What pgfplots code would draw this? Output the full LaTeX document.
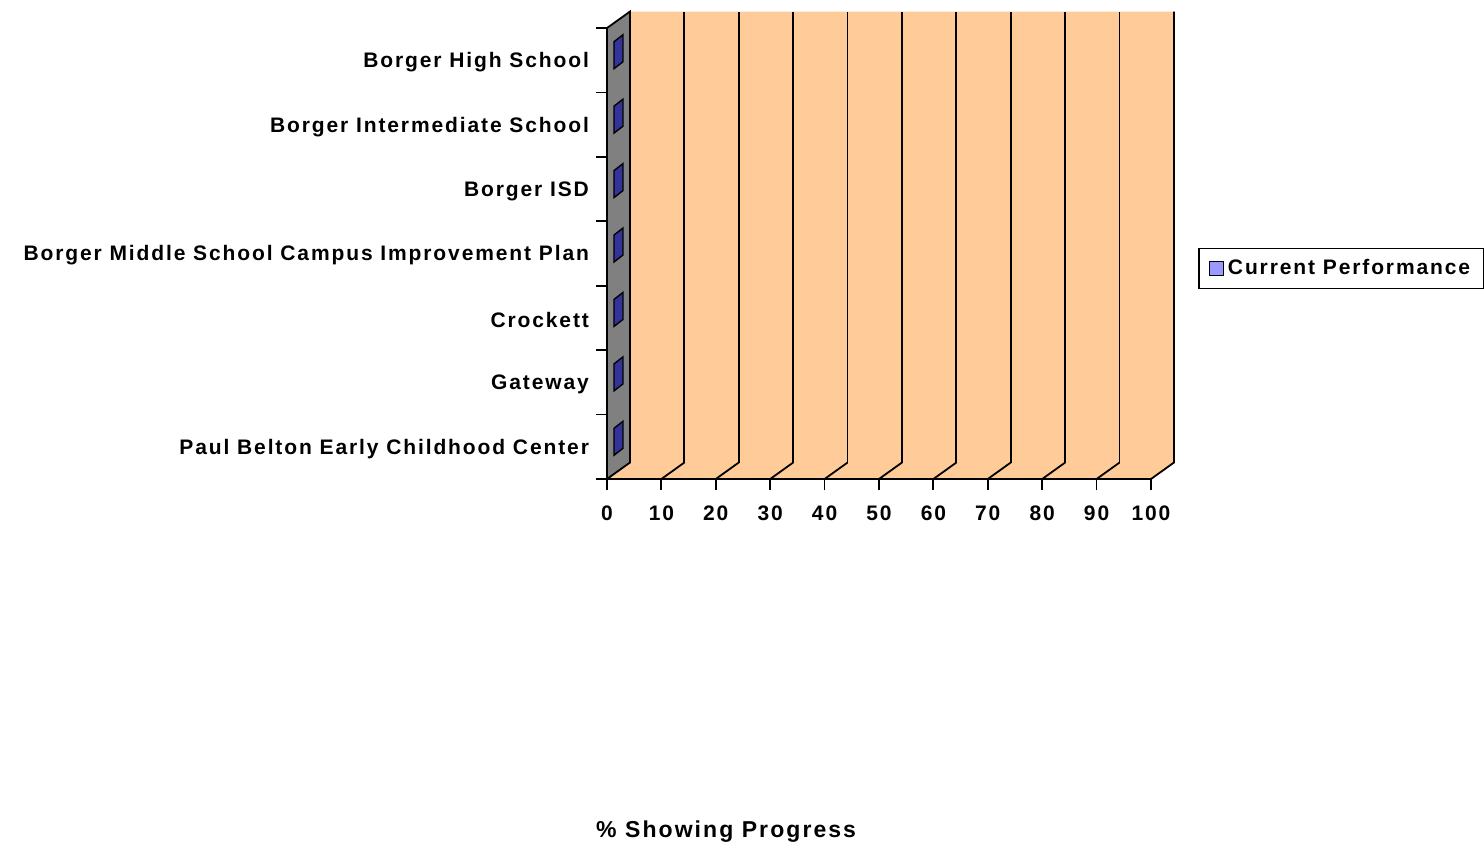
\documentclass[border=0pt]{standalone}
\usepackage{fontspec}
\setmainfont{Liberation Sans}[LetterSpace=9]
\usepackage{pgfplots}
\pgfplotsset{compat=1.18}
\definecolor{peach}{HTML}{FFCC99}
\definecolor{wallgray}{HTML}{808080}
\definecolor{bardark}{HTML}{333399}
\definecolor{barlight}{HTML}{9999FF}

% end face of a zero-length 3D bar, sitting halfway back in the depth
\pgfdeclareplotmark{slab}{%
  \pgfpathmoveto{\pgfqpoint{3.5pt}{-4.25pt}}%
  \pgfpathlineto{\pgfqpoint{3.5pt}{9.25pt}}%
  \pgfpathlineto{\pgfqpoint{8pt}{12.75pt}}%
  \pgfpathlineto{\pgfqpoint{8pt}{-0.75pt}}%
  \pgfpathclose
  \pgfusepathqfillstroke}

\tikzset{bk/.style={shift={(11.5pt,8.25pt)}}}

\begin{document}
\begin{tikzpicture}
\useasboundingbox (-303.5pt,-182pt) rectangle (438.5pt,239.5pt);
\begin{axis}[
  at={(0,0)}, anchor=south west,
  scale only axis, width=272pt, height=225.5pt,
  xmin=0, xmax=100, ymin=0, ymax=7,
  clip=false, axis on top,
  axis x line*=bottom, axis y line*=left,
  axis line style={line width=0.9pt},
  tick style={black, line width=0.9pt},
  tick align=outside, major tick length=5.5pt,
  xtick={0,10,...,100},
  xticklabel style={yshift=-4.5pt},
  ytick={0,...,7}, yticklabels={},
  extra y ticks={0.5,1.5,...,6.5},
  extra y tick labels={Paul Belton Early Childhood Center, Gateway, Crockett,
    Borger Middle School Campus Improvement Plan, Borger ISD,
    Borger Intermediate School, Borger High School},
  extra y tick style={tick style={draw=none}, yticklabel style={yshift=-1pt}},
  tick label style={font=\fontsize{10.5}{12}\selectfont\bfseries},
  /pgf/number format/assume math mode=true,
  xlabel={\% Showing Progress},
  xlabel style={at={(0.219,-0.781)}, anchor=center, font=\fontsize{11.5}{13}\selectfont\bfseries},
  legend style={at={(1.0864,0.4667)}, anchor=west, draw=black, line width=0.8pt,
    font=\fontsize{10.5}{12}\selectfont\bfseries, inner ysep=3.5pt, inner xsep=5pt},
]
% back wall
\fill[peach] (axis cs:0,0) -- (axis cs:100,0) -- ([bk]axis cs:100,0) -- ([bk]axis cs:100,7)
  -- ([bk]axis cs:0,7) -- ([bk]axis cs:0,0) -- cycle;
\pgfplotsinvokeforeach{10,20,...,90}{
  \draw[line width=0.9pt] ([bk]axis cs:#1,0) -- ([bk]axis cs:#1,7);
  \draw[line width=0.9pt] (axis cs:#1,0) -- ([bk]axis cs:#1,0);
}
\draw[line width=0.9pt] (axis cs:100,0) -- ([bk]axis cs:100,0) -- ([bk]axis cs:100,7);
% side wall
\filldraw[fill=wallgray, draw=black, line width=0.9pt] (axis cs:0,0) -- (axis cs:0,7)
  -- ([bk]axis cs:0,7) -- ([bk]axis cs:0,0) -- cycle;

\addplot[only marks, mark=slab,
  mark options={fill=bardark, draw=black, line width=0.7pt},
  legend image code/.code={\draw[fill=barlight, draw=black, line width=0.6pt]
    (0pt,-3.5pt) rectangle (7pt,3.5pt);}]
  coordinates {(0,0.5) (0,1.5) (0,2.5) (0,3.5) (0,4.5) (0,5.5) (0,6.5)};
\legend{Current Performance\hspace{6pt}}
\end{axis}
\end{tikzpicture}
\end{document}
